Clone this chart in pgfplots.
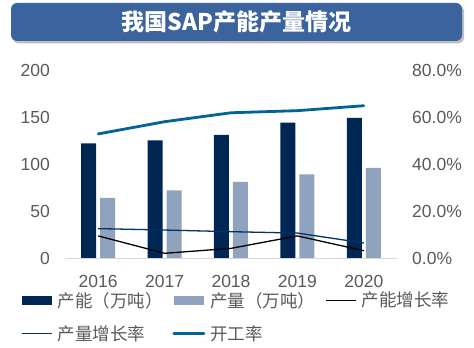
\documentclass[border=0pt]{standalone}
\usepackage{pgfplots}
\pgfplotsset{compat=1.18}
\usepackage{fontspec}
\setmainfont{Liberation Sans}
\newfontfamily\cjk{Noto Sans CJK SC}
\definecolor{capc}{RGB}{0,38,84}
\definecolor{prodc}{RGB}{143,163,190}
\definecolor{kgl}{RGB}{0,99,153}
\definecolor{cylg}{RGB}{0,51,102}
\definecolor{tickc}{RGB}{89,89,89}
\definecolor{titlec}{RGB}{59,99,158}
\definecolor{axisc}{RGB}{217,217,217}
\begin{document}
\begin{tikzpicture}[x=1pt,y=1pt]
\path[use as bounding box] (0,0) rectangle (474,348);
\fill[black!25, rounded corners=6pt] (13,304.5) rectangle (464,342.5);
\fill[titlec, rounded corners=6pt] (11,307) rectangle (462,345);
\node[text=white, font=\cjk\bfseries\fontsize{23}{26}\selectfont] at (236.5,326) {我国SAP产能产量情况};

\begin{axis}[
  at={(65pt,90pt)}, anchor=south west,
  width=332pt, height=188pt, scale only axis,
  xmin=-0.5, xmax=4.5, ymin=0, ymax=200,
  axis x line*=bottom, axis y line*=left,
  x axis line style={draw=axisc, line width=0.8pt, -},
  y axis line style={draw=none},
  major tick length=0pt,
  xtick={0,1,2,3,4}, xticklabels={2016,2017,2018,2019,2020},
  ytick={0,50,100,150,200},
  /pgf/number format/assume math mode=true,
  xticklabel style={font=\fontsize{17.5}{20}\selectfont, text=tickc, inner sep=0pt, anchor=north, yshift=-17pt},
  yticklabel style={font=\fontsize{17.5}{20}\selectfont, text=tickc, inner sep=0pt, anchor=east, xshift=-15pt},
]
\addplot[ybar, bar width=15pt, bar shift=-9.5pt, fill=capc, draw=none] coordinates {(0,122) (1,125) (2,131) (3,144) (4,149)};
\addplot[ybar, bar width=15pt, bar shift=9.5pt, fill=prodc, draw=none] coordinates {(0,64) (1,72) (2,81) (3,89) (4,96)};
\end{axis}

\begin{axis}[
  at={(65pt,90pt)}, anchor=south west,
  width=332pt, height=188pt, scale only axis,
  xmin=-0.5, xmax=4.5, ymin=0, ymax=80,
  axis x line=none, axis y line*=right,
  y axis line style={draw=none},
  major tick length=0pt,
  ytick={0,20,40,60,80},
  yticklabels={0.0\%,20.0\%,40.0\%,60.0\%,80.0\%},
  yticklabel style={font=\fontsize{17.5}{20}\selectfont, text=tickc, inner sep=0pt, anchor=west, xshift=15pt},
  legend columns=3,
  legend cell align=left,
  legend image code/.code={\draw[#1] (0pt,0pt) -- (30pt,0pt);},
  legend style={at={(-0.1325,-0.18)}, anchor=north west, draw=none, fill=none, inner sep=0pt,
    font=\cjk\fontsize{17.5}{20}\selectfont, text=tickc,
    row sep=17pt, column sep=0pt, nodes={inner sep=0pt},
    /tikz/every odd column/.append style={column sep=5pt},
    /tikz/every even column/.append style={column sep=10pt}},
]
\addlegendimage{legend image code/.code={\fill[capc] (0pt,-4pt) rectangle (29pt,4pt);}}
\addlegendentry{产能（万吨）}
\addlegendimage{legend image code/.code={\fill[prodc] (0pt,-4pt) rectangle (29pt,4pt);}}
\addlegendentry{产量（万吨）}
\addplot[black, line width=1.3pt] coordinates {(0,9.4) (1,2.0) (2,4.1) (3,9.4) (4,3.1)};
\addlegendentry{产能增长率}
\addplot[cylg, line width=1.3pt] coordinates {(0,12.5) (1,11.9) (2,11.2) (3,10.6) (4,6.4)};
\addlegendentry{产量增长率}
\addplot[kgl, line width=2.8pt, line cap=round] coordinates {(0,52.8) (1,58.0) (2,61.8) (3,62.7) (4,64.8)};
\addlegendentry{开工率}
\end{axis}
\end{tikzpicture}
\end{document}
